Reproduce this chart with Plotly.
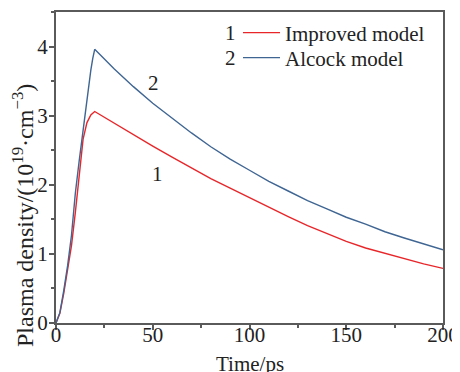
import plotly.graph_objects as go

# Time (ps) and plasma density (10^19 cm^-3)
t_improved = [0, 2, 4, 6, 8, 10, 12, 14, 16, 18, 20,
              30, 40, 50, 60, 70, 80, 90, 100, 110, 120, 130, 140, 150, 160, 170, 180, 190, 200]
n_improved = [0, 0.14, 0.43, 0.75, 1.12, 1.60, 2.18, 2.66, 2.90, 3.01, 3.06,
              2.89, 2.72, 2.56, 2.40, 2.24, 2.09, 1.95, 1.81, 1.67, 1.54, 1.41, 1.29, 1.18, 1.085, 1.005, 0.925, 0.855, 0.79]

t_alcock = [0, 2, 4, 6, 8, 10, 12, 14, 16, 17, 18, 19, 20,
            30, 40, 50, 60, 70, 80, 90, 100, 110, 120, 130, 140, 150, 160, 170, 180, 190, 200]
n_alcock = [0, 0.15, 0.47, 0.83, 1.27, 1.88, 2.35, 2.80, 3.25, 3.47, 3.66, 3.83, 3.96,
            3.68, 3.42, 3.18, 2.96, 2.75, 2.55, 2.37, 2.21, 2.05, 1.91, 1.77, 1.65, 1.53, 1.43, 1.32, 1.23, 1.14, 1.06]

series_names = ["Improved model", "Alcock model"]
series_ids = ["1", "2"]
x_ticks = [0, 50, 100, 150, 200]
y_ticks = [0, 1, 2, 3, 4]
x_title = "Time/ps"
y_title = "Plasma density/(10<sup>19</sup>·cm<sup>−3</sup>)"

FONT = "Liberation Serif"
TXT = "#222222"
AXC = "#5a5a5a"

# page body has an 8px margin; compensate so the plot area lands where the reference has it
OFF = 8
W, H = 460 - OFF, 372 - OFF
ML, MR, MT, MB = 56 - OFF, 17, 12 - OFF, 49


def f(size=21):
    return dict(family=FONT, size=size, color=TXT)


def py(Y):
    # screen y -> paper fraction
    return (323 - Y) / 311


def px(X):
    return (X - 56) / 387


fig = go.Figure()
fig.add_trace(go.Scatter(x=t_improved, y=n_improved, mode="lines", name=series_names[0],
                         line=dict(color="#e8262a", width=1.4), legend="legend"))
fig.add_trace(go.Scatter(x=t_alcock, y=n_alcock, mode="lines", name=series_names[1],
                         line=dict(color="#3f6593", width=1.4), legend="legend2"))

axis_common = dict(showline=True, linecolor=AXC, linewidth=2, mirror=True,
                   ticks="outside", ticklen=5, tickwidth=1.5, tickcolor=AXC,
                   showgrid=False, zeroline=False, automargin=False,
                   tickfont=f(21))

fig.update_xaxes(range=[0, 200], tickvals=x_ticks, ticktext=[str(v) for v in x_ticks],
                 minor=dict(ticks="outside", ticklen=3, tickwidth=1.5, tickcolor=AXC, dtick=25, tick0=0),
                 ticklabelstandoff=-13,
                 **axis_common)
fig.update_yaxes(range=[0, 4.5], tickvals=y_ticks, ticktext=[str(v) for v in y_ticks],
                 minor=dict(ticks="outside", ticklen=3, tickwidth=1.5, tickcolor=AXC, dtick=0.5, tick0=0),
                 ticklabelstandoff=-3,
                 **axis_common)

# axis titles placed as annotations (reference puts them off-centre)
fig.add_annotation(x=0.5, y=py(364), text=x_title, showarrow=False, xref="paper", yref="paper",
                   xanchor="center", yanchor="middle", font=f(21))
fig.add_annotation(x=px(23), y=py(216), text=y_title, showarrow=False, xref="paper", yref="paper",
                   xanchor="center", yanchor="middle", textangle=-90, font=f(24))

fig.add_annotation(x=50.3, y=3.47, text="2", showarrow=False, xref="x", yref="y",
                   xanchor="center", yanchor="middle", font=f(21))
fig.add_annotation(x=52.2, y=2.16, text="1", showarrow=False, xref="x", yref="y",
                   xanchor="center", yanchor="middle", font=f(21))
fig.add_annotation(x=px(230), y=py(33), text=series_ids[0], showarrow=False, xref="paper", yref="paper",
                   xanchor="center", yanchor="middle", font=f(21))
fig.add_annotation(x=px(230), y=py(58), text=series_ids[1], showarrow=False, xref="paper", yref="paper",
                   xanchor="center", yanchor="middle", font=f(21))

leg = dict(xanchor="left", yanchor="middle", font=f(21), bgcolor="rgba(0,0,0,0)", itemwidth=37)
fig.update_layout(
    width=W, height=H,
    margin=dict(l=ML, r=MR, t=MT, b=MB),
    paper_bgcolor="white", plot_bgcolor="white",
    font=f(21),
    showlegend=True,
    legend=dict(x=px(238), y=py(33), **leg),
    legend2=dict(x=px(238), y=py(58), **leg),
)

fig.write_html("out.html")
